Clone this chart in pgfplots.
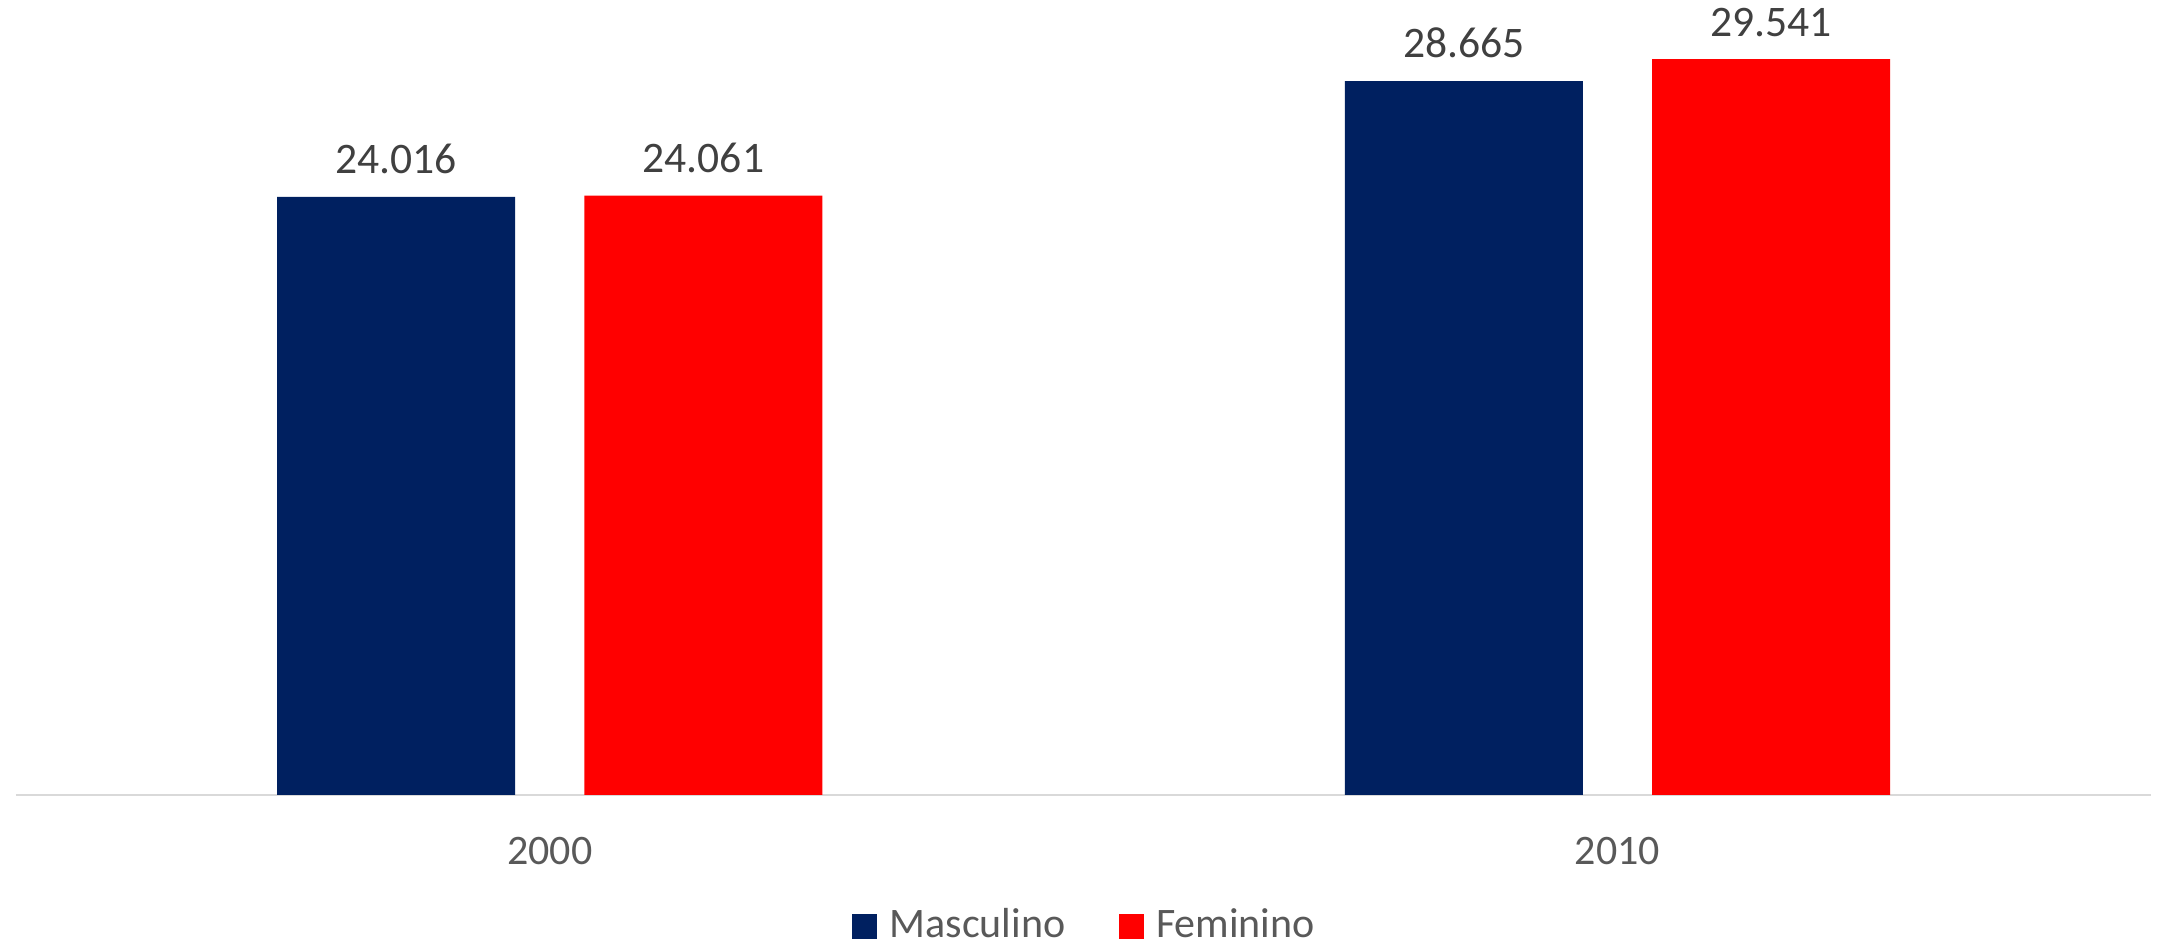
\documentclass[border=0pt]{standalone}
\usepackage{pgfplots}
\pgfplotsset{compat=1.18}
\usepackage{fontspec}
\setmainfont{Carlito}
\definecolor{masc}{HTML}{002060}
\definecolor{fem}{HTML}{FF0000}
\definecolor{labgray}{HTML}{404040}
\definecolor{tickgray}{HTML}{595959}
\definecolor{linegray}{HTML}{D9D9D9}
\begin{document}
\begin{tikzpicture}
\useasboundingbox (-4pt,-37pt) rectangle (535.25pt,198.75pt);
\begin{axis}[
  at={(0pt,0pt)}, anchor=south west,
  scale only axis,
  width=533.8pt, height=198.75pt,
  xmin=-0.5, xmax=1.5,
  ymin=0, ymax=31.92,
  axis x line=bottom, axis y line=none,
  x axis line style={draw=linegray, line width=0.5pt, -},
  xtick={0,1}, xticklabels={2000,2010},
  major tick length=0pt,
  ytick=\empty,
  xticklabel style={font=\fontsize{10.5}{12}\selectfont, text=tickgray, inner sep=0pt, anchor=north, yshift=-10.25pt},
  ybar, bar width=59.5pt,
  clip=false,
  point meta=explicit symbolic,
  nodes near coords,
  nodes near coords style={font=\fontsize{10.9}{12}\selectfont, text=labgray, inner sep=0pt, anchor=south, yshift=5.5pt},
  legend columns=-1,
  legend style={at={(0.5,-0.165)}, anchor=center, draw=none,
    font=\fontsize{10.5}{12}\selectfont, text=tickgray,
    nodes={inner sep=0pt},
    /tikz/every odd column/.style={column sep=3.1pt},
    /tikz/every even column/.style={column sep=13.4pt}},
  legend image code/.code={\fill[#1] (0pt,-3.1pt) rectangle (6.2pt,3.1pt);},
]
\addplot[fill=masc, draw=none, bar shift=-38.4pt] coordinates {(0,24.016) [24.016] (1,28.665) [28.665]};
\addplot[fill=fem, draw=none, bar shift=38.4pt] coordinates {(0,24.061) [24.061] (1,29.541) [29.541]};
\legend{Masculino, Feminino}
\end{axis}
\end{tikzpicture}
\end{document}
